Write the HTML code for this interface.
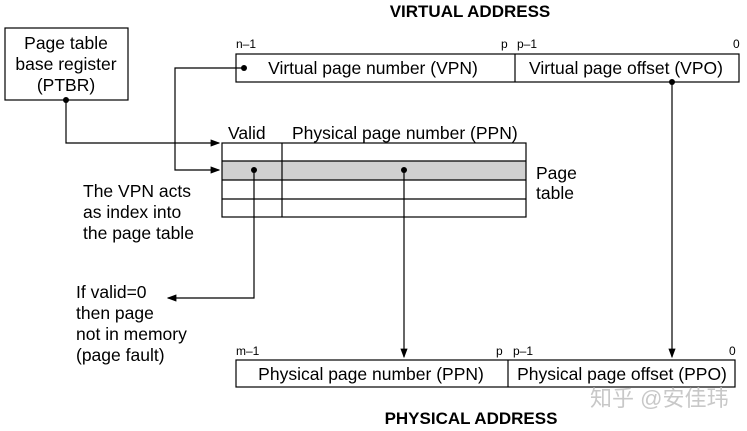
<!DOCTYPE html>
<html><head><style>
body{margin:0;background:#fff;}
svg{display:block;font-family:"Liberation Sans","Noto Sans CJK SC",sans-serif;}
</style></head><body>
<svg width="747" height="431" viewBox="0 0 747 431">
<defs><marker id="a" markerWidth="8" markerHeight="6" refX="7" refY="3" orient="auto"><path d="M0,0L8,3L0,6z" fill="#000"/></marker></defs>
<g fill="none" stroke="#000" stroke-width="1.2">
<rect x="5" y="28" width="123" height="72"/>
<rect x="236" y="54" width="503" height="28"/><line x1="515" y1="54" x2="515" y2="82"/>
<rect x="222" y="161" width="304" height="19" fill="#d0d0d0" stroke="none"/>
<rect x="222" y="143" width="304" height="74"/>
<line x1="222" y1="161" x2="526" y2="161"/><line x1="222" y1="180" x2="526" y2="180"/><line x1="222" y1="199" x2="526" y2="199"/>
<line x1="282" y1="143" x2="282" y2="217"/>
<rect x="236" y="360" width="499" height="27"/><line x1="508" y1="360" x2="508" y2="387"/>
<path d="M66,100V143H219" marker-end="url(#a)"/>
<path d="M244,68H175V170H219" marker-end="url(#a)"/>
<path d="M254,170V298H168" marker-end="url(#a)"/>
<path d="M404,170V357" marker-end="url(#a)"/>
<path d="M672,82V357" marker-end="url(#a)"/>
</g>
<g fill="#000"><circle cx="66" cy="100" r="3"/><circle cx="244" cy="68" r="3"/><circle cx="254" cy="170" r="3"/><circle cx="404" cy="170" r="3"/><circle cx="672" cy="82" r="3"/></g>
<g font-size="17.5" fill="#000">
<text x="470" y="17" font-weight="bold" text-anchor="middle" font-size="17">VIRTUAL ADDRESS</text>
<text x="471" y="424" font-weight="bold" text-anchor="middle" font-size="17">PHYSICAL ADDRESS</text>
<text x="66" y="49" text-anchor="middle">Page table</text>
<text x="66" y="70" text-anchor="middle">base register</text>
<text x="66" y="91" text-anchor="middle">(PTBR)</text>
<text x="373" y="74" text-anchor="middle">Virtual page number (VPN)</text>
<text x="626" y="74" text-anchor="middle">Virtual page offset (VPO)</text>
<text x="228" y="139">Valid</text>
<text x="292" y="139">Physical page number (PPN)</text>
<text x="536" y="179">Page</text>
<text x="536" y="199">table</text>
<text x="83" y="197">The VPN acts</text>
<text x="83" y="218">as index into</text>
<text x="83" y="239">the page table</text>
<text x="76" y="298">If valid=0</text>
<text x="76" y="319">then page</text>
<text x="76" y="340">not in memory</text>
<text x="76" y="361">(page fault)</text>
<text x="371" y="380" text-anchor="middle">Physical page number (PPN)</text>
<text x="622" y="380" text-anchor="middle">Physical page offset (PPO)</text>
</g>
<g font-size="12" fill="#000">
<text x="236" y="48">n–1</text><text x="501" y="48">p</text><text x="517" y="48">p–1</text><text x="733" y="48">0</text>
<text x="236" y="355">m–1</text><text x="496" y="355">p</text><text x="513" y="355">p–1</text><text x="729" y="355">0</text>
</g>
<text x="590" y="406" font-size="22" fill="#c8c8c8">知乎 @安佳玮</text>
</svg>
</body></html>
